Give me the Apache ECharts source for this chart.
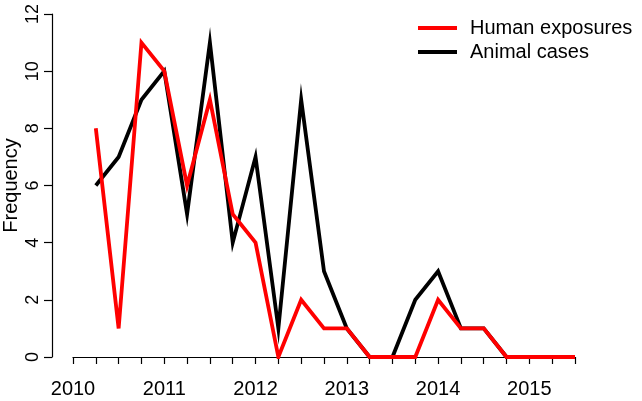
<!DOCTYPE html>
<html><head><meta charset="utf-8">
<script src="https://cdn.jsdelivr.net/npm/echarts@6/dist/echarts.min.js"></script>
<style>html,body{margin:0;padding:0;background:#fff}#c{width:642px;height:401px}</style>
</head><body><div id="c"></div>
<script>
var quarters = [2010.25,2010.5,2010.75,2011,2011.25,2011.5,2011.75,2012,2012.25,2012.5,2012.75,2013,2013.25,2013.5,2013.75,2014,2014.25,2014.5,2014.75,2015,2015.25,2015.5];
var humanExposures = [8,1,11,10,6,9,5,4,0,2,1,1,0,0,0,2,1,1,0,0,0,0];
var animalCases = [6,7,9,10,5,11,4,7,1,9,3,1,0,0,2,3,1,1,0,0,0,0];
var seriesNames = ['Human exposures','Animal cases'];
var yTicks = [0,2,4,6,8,10,12];

function pairs(xs, ys){ return xs.map(function(x,i){return [x, ys[i]];}); }
var FONT = 'Liberation Sans, Arial, Helvetica, sans-serif';
var chart = echarts.init(document.getElementById('c'), null, {renderer:'canvas'});
chart.setOption({
  animation:false,
  backgroundColor:'#fff',
  grid:{left:73, right:67, top:14, bottom:44, containLabel:false, outerBoundsMode:'none'},
  legend:{
    orient:'vertical', left:413, top:13, itemWidth:39, itemHeight:4, itemGap:4,
    icon:'rect',
    data:[seriesNames[0], seriesNames[1]],
    textStyle:{fontFamily:FONT, fontSize:20, color:'#000', padding:[0,0,0,8], lineHeight:20}
  },
  xAxis:{
    type:'value', min:2010, max:2015.5, interval:0.25, offset:15,
    axisLine:{show:true, lineStyle:{color:'#000', width:1.2}},
    axisTick:{show:true, length:7, lineStyle:{color:'#000', width:1.2}},
    axisLabel:{show:true, margin:7, fontFamily:FONT, fontSize:20, color:'#000',
      formatter:function(v){ return Number.isInteger(v) ? String(v) : ''; }},
    splitLine:{show:false}
  },
  yAxis:{
    type:'value', min:0, max:12, interval:2, offset:21,
    name:'Frequency', nameLocation:'middle', nameGap:31, nameRotate:90, nameMoveOverlap:false,
    nameTextStyle:{fontFamily:FONT, fontSize:20, color:'#000'},
    axisLine:{show:true, lineStyle:{color:'#000', width:1.2}},
    axisTick:{show:true, length:8, lineStyle:{color:'#000', width:1.2}},
    axisLabel:{show:true, rotate:90, margin:10, fontFamily:FONT, fontSize:18, color:'#000', verticalAlign:'bottom', align:'center'},
    splitLine:{show:false}
  },
  series:[
    {name:seriesNames[1], type:'line', data:pairs(quarters, animalCases), symbol:'none', showSymbol:false, z:2,
     lineStyle:{color:'#000', width:3.8, join:'miter'}, itemStyle:{color:'#000'}},
    {name:seriesNames[0], type:'line', data:pairs(quarters, humanExposures), symbol:'none', showSymbol:false, z:3,
     lineStyle:{color:'#ff0000', width:3.8, join:'miter'}, itemStyle:{color:'#ff0000'}}
  ]
});
</script></body></html>
